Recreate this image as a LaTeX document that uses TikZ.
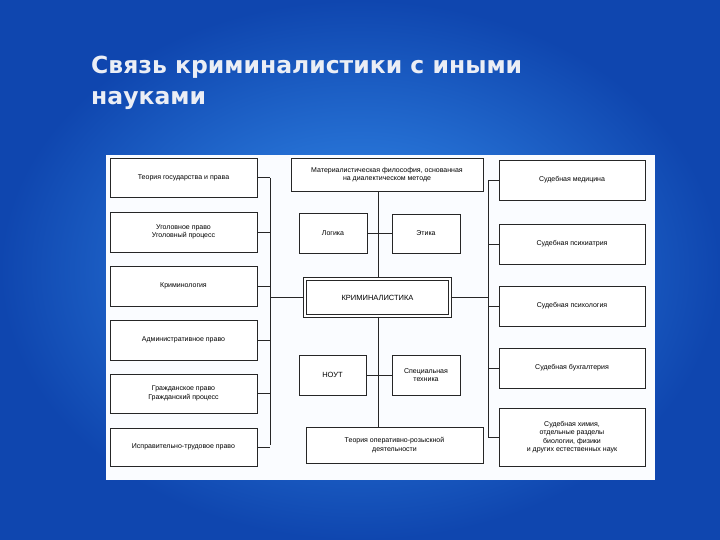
\documentclass[tikz,border=0pt]{standalone}
\usepackage{fontspec}
\setmainfont{Liberation Sans}
\newfontfamily\titlefont{DejaVu Sans}
\usetikzlibrary{shadings}
\definecolor{bgin}{RGB}{55,145,240}
\definecolor{bgout}{RGB}{15,70,175}
\definecolor{panel}{RGB}{250,252,255}
\definecolor{ttl}{RGB}{235,238,245}
\begin{document}
\begin{tikzpicture}[x=1pt,y=-1pt,
  bx/.style={draw=black!85,line width=0.8pt,fill=white,align=center,font=\fontsize{7}{8.5}\selectfont,inner sep=1pt},
  ln/.style={draw=black!85,line width=0.8pt}]
\useasboundingbox (0,0) rectangle (720,540);
\shade[inner color=bgin,outer color=bgout] (0,0) rectangle (720,540);
\node[anchor=west,text=ttl,font=\titlefont\bfseries\fontsize{23.5}{31}\selectfont,align=left,inner sep=0pt] (title) at (91,83) {Связь криминалистики с иными\\науками};
\fill[panel] (106,155) rectangle (655,480);
% left column
\def\lbox#1#2#3#4{\node[bx,minimum width=147pt,minimum height={#3-#2}] (#1) at (183.5,{(#2+#3)/2}) {#4};}
\lbox{l1}{158}{197}{Теория государства и права}
\lbox{l2}{212}{252}{Уголовное право\\Уголовный процесс}
\lbox{l3}{266}{306}{Криминология}
\lbox{l4}{320}{360}{Административное право}
\lbox{l5}{374}{413}{Гражданское право\\Гражданский процесс}
\lbox{l6}{428}{466}{Исправительно-трудовое право}
% right column
\def\rbox#1#2#3#4{\node[bx,minimum width=146pt,minimum height={#3-#2}] (#1) at (572,{(#2+#3)/2}) {#4};}
\rbox{r1}{160}{200}{Судебная медицина}
\rbox{r2}{224}{264}{Судебная психиатрия}
\rbox{r3}{286}{326}{Судебная психология}
\rbox{r4}{348}{388}{Судебная бухгалтерия}
\rbox{r5}{408}{466}{Судебная химия,\\отдельные разделы\\биологии, физики\\и других естественных наук}
% center
\node[bx,minimum width=192pt,minimum height=33pt] (phil) at (387,174.5) {Материалистическая философия, основанная\\на диалектическом методе};
\node[bx,minimum width=68pt,minimum height=40pt] (log) at (333,233) {Логика};
\node[bx,minimum width=68pt,minimum height=39pt] (eth) at (426,233.5) {Этика};
\node[bx,minimum width=145pt,minimum height=37pt,line width=1.3pt,double,double distance=1.5pt,font=\fontsize{7.5}{8}\selectfont] (krim) at (377.5,297.5) {КРИМИНАЛИСТИКА};
\node[bx,minimum width=67pt,minimum height=40pt,font=\fontsize{7.5}{8}\selectfont] (nout) at (332.5,375) {НОУТ};
\node[bx,minimum width=68pt,minimum height=40pt] (spec) at (426,375) {Специальная\\техника};
\node[bx,minimum width=177pt,minimum height=36pt] (ord) at (394.5,445) {Теория оперативно-розыскной\\деятельности};
% connectors
\coordinate (lb1) at (270,178); \coordinate (lb2) at (270,445);
\draw[ln] (lb1) -- (lb2);
\foreach \n in {l1,l2,l3,l4,l5,l6} \draw[ln] (\n.east) -- (\n.east -| lb1);
\draw[ln] (krim.west) -- (krim.west -| lb1);
\coordinate (rb1) at (488,181); \coordinate (rb2) at (488,437);
\draw[ln] (rb1) -- (rb2);
\foreach \n in {r1,r2,r3,r4} \draw[ln] (\n.west) -- (\n.west -| rb1);
\draw[ln] (r5.west |- rb2) -- (rb2);
\draw[ln] (krim.east) -- (krim.east -| rb1);
\coordinate (cx) at (378,0);
\draw[ln] (phil.south -| cx) -- (krim.north -| cx);
\draw[ln] (log.east) -- (log.east -| cx);
\draw[ln] (eth.west) -- (eth.west -| cx);
\draw[ln] (krim.south -| cx) -- (ord.north -| cx);
\draw[ln] (nout.east) -- (nout.east -| cx);
\draw[ln] (spec.west) -- (spec.west -| cx);
\end{tikzpicture}
\end{document}
